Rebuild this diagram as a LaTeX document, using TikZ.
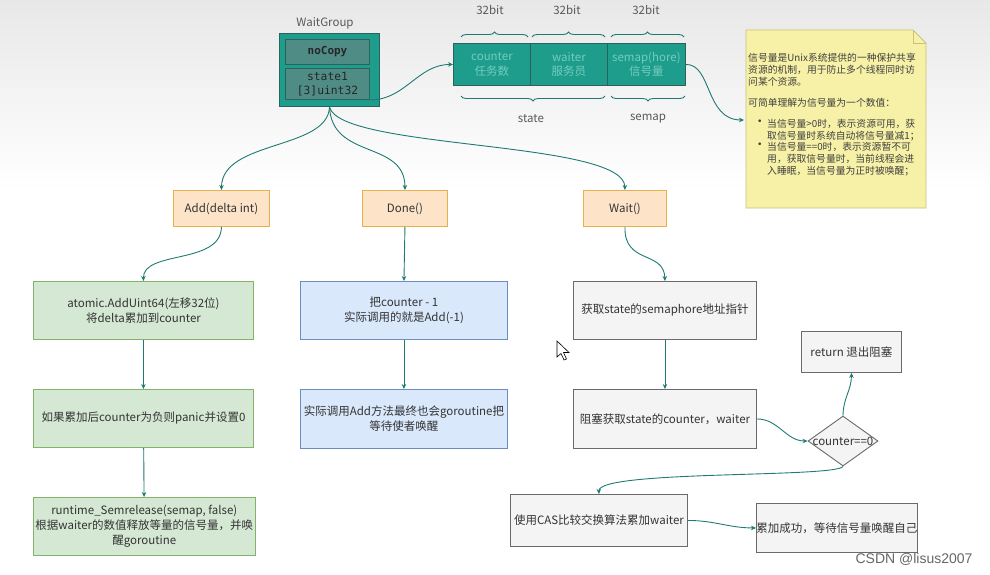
\documentclass[tikz,border=0pt]{standalone}
\usepackage{fontspec}
\setmainfont{Noto Sans CJK SC}
\setmonofont{DejaVu Sans Mono}
\newfontfamily\csdnfont{Liberation Sans}
\usetikzlibrary{arrows.meta,decorations.pathreplacing,shapes.geometric}
\definecolor{tealA}{HTML}{1E9C8C}
\definecolor{tealB}{HTML}{4F8C85}
\definecolor{tealD}{HTML}{2A625C}
\definecolor{tealT}{HTML}{72CDBF}
\definecolor{arr}{HTML}{1F7A72}
\definecolor{gfill}{HTML}{D5E8D4}
\definecolor{gdraw}{HTML}{82B366}
\definecolor{bfill}{HTML}{DAE8FC}
\definecolor{bdraw}{HTML}{6C8EBF}
\definecolor{ofill}{HTML}{FDE4C8}
\definecolor{odraw}{HTML}{E8B04A}
\definecolor{kfill}{HTML}{F4F4F4}
\definecolor{kdraw}{HTML}{6A6A6A}
\definecolor{nfill}{HTML}{F6F1A6}
\definecolor{ndraw}{HTML}{C9C27E}
\definecolor{txt}{HTML}{333333}
\tikzset{
  base/.style={draw, line width=0.9pt, align=center, inner sep=2pt, anchor=north west,
    font=\fontsize{11.5}{15}\selectfont, text=txt},
  gbox/.style={base, fill=gfill, draw=gdraw},
  bbox/.style={base, fill=bfill, draw=bdraw},
  obox/.style={base, fill=ofill, draw=odraw},
  kbox/.style={base, fill=kfill, draw=kdraw},
  cell/.style={draw=tealD, line width=0.9pt, fill=tealA, anchor=north west, minimum width=77, minimum height=42,
    align=center, text=tealT, inner sep=1pt, font=\fontsize{11.5}{14.5}\selectfont},
  inbox/.style={draw=tealD, line width=1pt, fill=tealB, anchor=north west, minimum width=84, align=center,
    inner sep=1pt, font=\ttfamily\fontsize{11.3}{14}\selectfont, text=black!85},
  conn/.style={draw=arr, line width=0.9pt, -{Stealth[length=5pt,width=4.5pt]}},
  brc/.style={draw=arr, line width=0.9pt, decorate, decoration={brace, amplitude=5pt}},
  lbl/.style={text=black!65, font=\fontsize{11.5}{13}\selectfont},
  ntext/.style={anchor=north west, align=left, inner sep=0pt, text=black!75, font=\fontsize{9.8}{12}\selectfont},
}
\begin{document}
\begin{tikzpicture}[x=1pt,y=-1pt]
\useasboundingbox (0,0) rectangle (990,575);
\fill[top color=black!9, bottom color=white] (0,0) rectangle (990,190);

% WaitGroup
\node[lbl] (wgl) at (325,23) {WaitGroup};
\node[draw=tealD, line width=1pt, fill=tealA, anchor=north west, minimum width=100, minimum height=73, inner sep=0] (wg) at (279,33) {};
\node[inbox, minimum height=25, font=\ttfamily\bfseries\fontsize{11}{13}\selectfont] (nocopy) at (285,39) {noCopy};
\node[inbox, minimum height=31] (state1) at (285,68) {state1\\{}[3]uint32};

% state cells
\node[cell] (c1) at (453,43) {counter\\任务数};
\node[cell] (c2) at (530,43) {waiter\\服务员};
\node[cell, minimum width=78] (c3) at (607,43) {semap(hore)\\信号量};

\node[lbl] (b1) at (490,10) {32bit};
\node[lbl] (b2) at (567,10) {32bit};
\node[lbl] (b3) at (646,10) {32bit};
\draw[brc] (461,37) -- (528,37);
\draw[brc] (532,37) -- (605,37);
\draw[brc] (611,37) -- (684,37);
\draw[brc, decoration={brace, amplitude=5pt, mirror}] (461,96) -- (605,96);
\draw[brc, decoration={brace, amplitude=5pt, mirror}] (611,96) -- (685,96);
\node[lbl] (lstate) at (531,119) {state};
\node[lbl] (lsemap) at (648,119) {semap};

% note
\draw[draw=ndraw, fill=nfill, line width=0.8pt] (746,30) -- (913,30) -- (926,43) -- (926,208) -- (746,208) -- cycle;
\draw[draw=ndraw, line width=0.8pt] (913,30) -- (913,43) -- (926,43);
\coordinate (note) at (744,120);
\node[ntext] (n1) at (748,53) {信号量是Unix系统提供的一种保护共享\\资源的机制，用于防止多个线程同时访\\问某个资源。};
\node[ntext] (n2) at (748,98) {可简单理解为信号量为一个数值：};
\node[ntext, font=\csdnfont\fontsize{9.8}{12}\selectfont] (nb1) at (758,120) {•};
\node[ntext] (n3) at (767,119) {当信号量>0时，表示资源可用，获\\取信号量时系统自动将信号量减1；};
\node[ntext, font=\csdnfont\fontsize{9.8}{12}\selectfont] (nb2) at (758,143) {•};
\node[ntext] (n4) at (767,142) {当信号量==0时，表示资源暂不可\\用，获取信号量时，当前线程会进\\入睡眠，当信号量为正时被唤醒；};

% API boxes
\node[obox, minimum width=96, minimum height=36] (add) at (173,190) {Add(delta int)};
\node[obox, minimum width=85, minimum height=36] (done) at (362,190) {Done()};
\node[obox, minimum width=83, minimum height=36] (wait) at (583,190) {Wait()};

% green column
\node[gbox, minimum width=220, minimum height=58] (g1) at (33,281) {atomic.AddUint64(左移32位)\\将delta累加到counter};
\node[gbox, minimum width=220, minimum height=58] (g2) at (33,389) {如果累加后counter为负则panic并设置0};
\node[gbox, minimum width=220, minimum height=58] (g3) at (33,497) {runtime\_Semrelease(semap, false)\\根据waiter的数值释放等量的信号量，并唤\\醒goroutine};

% blue column
\node[bbox, minimum width=207, minimum height=58] (u1) at (300,281) {把counter - 1\\实际调用的就是Add(-1)};
\node[bbox, minimum width=207, minimum height=59] (u2) at (300,389) {实际调用Add方法最终也会goroutine把\\等待使者唤醒};

% gray column
\node[kbox, minimum width=183, minimum height=58] (k1) at (573,281) {获取state的semaphore地址指针};
\node[kbox, minimum width=183, minimum height=59] (k2) at (573,389) {阻塞获取state的counter，waiter};
\node[diamond, draw=kdraw, fill=kfill, line width=0.9pt, minimum width=70, minimum height=50, inner sep=0] (dia) at (843,441) {};
\node[text=txt, font=\fontsize{11.5}{12}\selectfont, inner sep=0] (diat) at (dia) {counter==0};
\node[kbox, minimum width=100, minimum height=41] (ret) at (801,331) {return 退出阻塞};
\node[kbox, minimum width=177, minimum height=52] (cas) at (510,494) {使用CAS比较交换算法累加waiter};
\node[kbox, minimum width=159, minimum height=49, inner sep=0pt] (fin) at (756,503) {累加成功，等待信号量唤醒自己};

% connectors
\draw[conn] ([yshift=-16]state1.east) to[out=0,in=180] (c1.west);
\draw[conn] (c3.east) .. controls (712,64) and (705,120) .. (note);
\draw[conn] (wg.south) .. controls (328,150) and (222,140) .. (add.north);
\draw[conn] (wg.south) .. controls (332,160) and (405,140) .. (done.north);
\draw[conn] (wg.south) .. controls (340,150) and (624,140) .. (wait.north);
\draw[conn] (add.south) .. controls (221,265) and (143,250) .. (g1.north);
\draw[conn] (g1) -- (g2);
\draw[conn] (g2) -- (g3);
\draw[conn] (done.south) -- (u1.north);
\draw[conn] (u1) -- (u2);
\draw[conn] (wait.south) .. controls (624,265) and (664,250) .. (k1.north);
\draw[conn] (k1) -- (k2);
\draw[conn] (k2.east) to[out=0,in=180] (dia.west);
\draw[conn] (dia.north) to[out=90,in=-90] (ret.south);
\draw[conn] (dia.south) .. controls (835,478) and (598,470) .. (cas.north);
\draw[conn] (cas.east) to[out=0,in=180] (fin.west);

% mouse cursor
\draw[fill=white, line width=0.6pt] (557,341) -- (557,357) -- (561,353.5) -- (564,360) -- (566.5,359) -- (563.5,352.5) -- (569,352.5) -- cycle;

\node[text=black!60, font=\csdnfont\fontsize{14}{15}\selectfont, anchor=east] (csdn) at (976,559) {CSDN @lisus2007};
\end{tikzpicture}
\end{document}
